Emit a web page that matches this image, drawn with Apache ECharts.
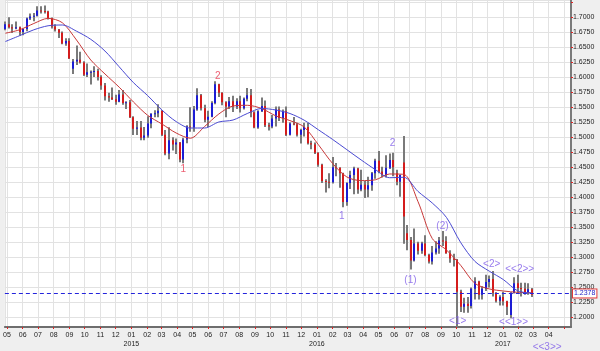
<!DOCTYPE html>
<html>
<head>
<meta charset="utf-8">
<title>GBP/USD weekly</title>
<script src="https://cdn.jsdelivr.net/npm/echarts@6/dist/echarts.min.js"></script>
<style>
  html, body { margin: 0; padding: 0; background: #efefef; }
  #main { width: 600px; height: 351px; }
</style>
</head>
<body>
<div id="main"></div>
<script>
// weekly candles, first one is the week of 2014-04-28
var firstWeek = '2014-04-28';

var opens = [
  1.6800,1.6880,1.6830,1.6810,1.6830,1.6750,1.6800,1.6975,1.7010,1.7020,1.7110,1.7100,
  1.7090,1.6980,1.6840,1.6790,1.6740,1.6560,1.6600,1.6140,1.6260,1.6290,1.6245,1.6040,
  1.6080,1.6090,1.6100,1.6000,1.5860,1.5680,1.5660,1.5630,1.5590,1.5710,1.5570,1.5580,
  1.5330,1.5140,1.5160,1.4990,1.5030,1.5230,1.5390,1.5400,1.5440,1.5040,1.4730,1.4950,
  1.4880,1.4910,1.4630,1.4960,1.5180,1.5160,1.5460,1.5700,1.5480,1.5290,1.5340,1.5570,
  1.5880,1.5740,1.5580,1.5510,1.5600,1.5510,1.5600,1.5480,1.5640,1.5700,1.5410,1.5160,
  1.5430,1.5520,1.5200,1.5180,1.5310,1.5460,1.5320,1.5430,1.5040,1.5230,1.5210,1.5040,
  1.5120,1.5170,1.4900,1.4880,
  1.4740,1.4540,1.4270,1.4260,1.4250,1.4500,1.4490,1.4400,1.3920,1.4240,1.4370,1.4480,
  1.4130,1.4210,1.4130,1.4200,1.4400,1.4610,1.4430,1.4370,1.4490,1.4620,1.4400,1.4260,
  1.4580,1.3400,1.3290,1.2950,1.3230,1.3110,1.3230,1.3040,1.2930,1.3080,1.3150,1.3280,
  1.3270,1.3070,1.2980,1.2960,1.2430,1.2180,1.2230,1.2190,1.2480,1.2600,1.2380,1.2480,
  1.2590,1.2640,1.2410,1.2280,
  1.2340,1.2270,1.2040,1.2410,1.2570,1.2490,1.2480,1.2410,1.2470
];
var highs = [
  1.6925,1.6996,1.6880,1.6925,1.6840,1.6810,1.6990,1.7060,1.7065,1.7180,1.7180,1.7190,
  1.7105,1.6990,1.6880,1.6800,1.6760,1.6645,1.6645,1.6300,1.6525,1.6420,1.6265,1.6225,
  1.6110,1.6180,1.6140,1.6030,1.5900,1.5740,1.5825,1.5705,1.5785,1.5785,1.5600,1.5620,
  1.5350,1.5270,1.5270,1.5170,1.5350,1.5400,1.5450,1.5550,1.5450,1.5120,1.5165,1.5000,
  1.4980,1.4920,1.4990,1.5200,1.5500,1.5520,1.5815,1.5720,1.5540,1.5440,1.5600,1.5930,
  1.5890,1.5750,1.5600,1.5670,1.5690,1.5650,1.5690,1.5660,1.5820,1.5800,1.5430,1.5450,
  1.5660,1.5610,1.5240,1.5370,1.5510,1.5510,1.5460,1.5510,1.5250,1.5335,1.5240,1.5140,
  1.5240,1.5240,1.4940,1.4910,
  1.4750,1.4560,1.4300,1.4400,1.4670,1.4570,1.4500,1.4410,1.4250,1.4440,1.4510,1.4490,
  1.4460,1.4270,1.4340,1.4420,1.4640,1.4770,1.4510,1.4700,1.4730,1.4740,1.4460,1.4380,
  1.5018,1.3540,1.3340,1.3480,1.3260,1.3260,1.3370,1.3060,1.3190,1.3270,1.3340,1.3440,
  1.3350,1.3120,1.3060,1.2975,1.2460,1.2330,1.2340,1.2500,1.2670,1.2610,1.2520,1.2710,
  1.2700,1.2775,1.2420,1.2370,
  1.2430,1.2280,1.2420,1.2670,1.2710,1.2580,1.2580,1.2570,1.2490
];
var lows = [
  1.6780,1.6810,1.6735,1.6795,1.6690,1.6695,1.6765,1.6950,1.6930,1.7010,1.7060,1.7060,
  1.6960,1.6810,1.6760,1.6650,1.6545,1.6520,1.6300,1.6050,1.6200,1.6225,1.6020,1.6000,
  1.5875,1.6000,1.5945,1.5790,1.5610,1.5590,1.5620,1.5540,1.5580,1.5540,1.5470,1.5320,
  1.5035,1.5035,1.4950,1.4950,1.4990,1.5150,1.5330,1.5330,1.5020,1.4700,1.4635,1.4780,
  1.4720,1.4585,1.4565,1.4900,1.5090,1.5090,1.5440,1.5445,1.5250,1.5170,1.5330,1.5550,
  1.5670,1.5530,1.5330,1.5470,1.5420,1.5470,1.5410,1.5460,1.5600,1.5330,1.5150,1.5140,
  1.5420,1.5170,1.5110,1.5150,1.5180,1.5270,1.5240,1.5020,1.5030,1.5200,1.5010,1.4895,
  1.5010,1.4880,1.4800,1.4720,
  1.4510,1.4240,1.4080,1.4150,1.4230,1.4350,1.4160,1.3835,1.3860,1.4140,1.4050,1.4060,
  1.4100,1.3990,1.4000,1.4110,1.4310,1.4400,1.4330,1.4330,1.4470,1.4350,1.4200,1.4010,
  1.3228,1.3120,1.2800,1.2930,1.3050,1.3060,1.3020,1.2900,1.2880,1.3050,1.3060,1.3190,
  1.3060,1.2910,1.2850,1.1841,1.2090,1.2080,1.2080,1.2150,1.2300,1.2300,1.2300,1.2440,
  1.2500,1.2350,1.2250,1.2200,
  1.2200,1.2040,1.1986,1.2400,1.2400,1.2350,1.2380,1.2380,1.2340
];
var closes = [
  1.6880,1.6830,1.6810,1.6830,1.6750,1.6800,1.6975,1.7010,1.7020,1.7110,1.7100,1.7090,
  1.6980,1.6840,1.6790,1.6740,1.6560,1.6600,1.6310,1.6260,1.6290,1.6245,1.6040,1.6080,
  1.6090,1.6100,1.6000,1.5860,1.5680,1.5660,1.5630,1.5590,1.5710,1.5570,1.5580,1.5330,
  1.5140,1.5160,1.4990,1.5030,1.5230,1.5390,1.5400,1.5440,1.5040,1.4730,1.4950,1.4880,
  1.4910,1.4630,1.4960,1.5180,1.5160,1.5460,1.5700,1.5480,1.5290,1.5340,1.5570,1.5880,
  1.5740,1.5580,1.5510,1.5600,1.5510,1.5600,1.5480,1.5640,1.5700,1.5410,1.5160,1.5430,
  1.5520,1.5200,1.5180,1.5310,1.5460,1.5320,1.5430,1.5040,1.5230,1.5210,1.5040,1.5120,
  1.5170,1.4900,1.4880,1.4740,
  1.4540,1.4270,1.4260,1.4250,1.4500,1.4490,1.4400,1.3920,1.4240,1.4370,1.4480,1.4130,
  1.4210,1.4130,1.4200,1.4400,1.4610,1.4430,1.4370,1.4490,1.4620,1.4500,1.4260,1.4370,
  1.3680,1.3290,1.2950,1.3230,1.3110,1.3230,1.3040,1.2930,1.3080,1.3150,1.3280,1.3270,
  1.3070,1.2980,1.2960,1.2430,1.2180,1.2230,1.2190,1.2480,1.2600,1.2380,1.2480,1.2590,
  1.2640,1.2410,1.2280,1.2340,
  1.2270,1.2180,1.2410,1.2570,1.2490,1.2480,1.2410,1.2470,1.2378
];

// moving averages, one value every 4th week
var maStep = 4;
var maRed = [
  1.6730,1.6787,1.6892,1.6977,1.6905,1.6617,1.6285,1.6052,1.5832,1.5586,1.5364,1.5220,
  1.5070,1.4983,1.5178,1.5386,1.5519,1.5531,1.5478,1.5356,1.5276,1.5170,1.4874,1.4562,
  1.4338,1.4278,1.4291,1.4388,1.4381,1.3927,1.3314,1.3123,1.2867,1.2567,1.2476,1.2441,
  1.2419,1.2413
];
var maBlue = [
  1.6592,1.6689,1.6787,1.6854,1.6867,1.6764,1.6629,1.6434,1.6171,1.5908,1.5692,1.5453,
  1.5260,1.5153,1.5153,1.5253,1.5286,1.5394,1.5478,1.5453,1.5394,1.5283,1.5123,1.4962,
  1.4792,1.4622,1.4461,1.4326,1.4333,1.4097,1.3905,1.3664,1.3246,1.2933,1.2772,1.2630,
  1.2444,1.2406
];

var lastPrice = 1.2378;

// wave count labels
var waveText  = ['1', '2', '1', '2', '(1)', '(2)', '<1>', '<2>', '<<1>>', '<<2>>', '<<3>>'];
var waveDate  = ['2015-04-13', '2015-06-20', '2016-02-19', '2016-05-29', '2016-07-03', '2016-09-04',
                 '2016-10-04', '2016-12-10', '2017-01-22', '2017-02-03', '2017-03-29'];
var wavePrice = [1.4471, 1.6007, 1.3689, 1.4903, 1.2624, 1.3522, 1.1930, 1.2890, 1.1917, 1.2807, 1.1509];
var waveTone  = ['r', 'r', 'p', 'p', 'p', 'p', 'p', 'p', 'p', 'p', 'p'];

// last month that gets a label, highest price label shown
var lastLabelMonth = '2017-04-01';
var topPriceLabel = 1.7;

var DAY = 86400000;
function utc(s) { return Date.parse(s + 'T00:00:00Z'); }
var t0 = utc(firstWeek);

var candles = opens.map(function (o, i) {
  return [t0 + i * 7 * DAY, o, closes[i], lows[i], highs[i]];
});
var redLine = maRed.map(function (v, k) { return [t0 + k * maStep * 7 * DAY, v]; });
var blueLine = maBlue.map(function (v, k) { return [t0 + k * maStep * 7 * DAY, v]; });
var waves = waveText.map(function (s, i) {
  return {
    value: [utc(waveDate[i]), wavePrice[i]],
    label: { formatter: s, color: waveTone[i] === 'r' ? '#e8364e' : '#7d5ae8' }
  };
});

function renderCandle(params, api) {
  var t = api.value(0), o = api.value(1), c = api.value(2), l = api.value(3), h = api.value(4);
  var top = api.coord([t, h]), bot = api.coord([t, l]);
  var po = api.coord([t, o]), pc = api.coord([t, c]);
  var x = Math.round(top[0]) - 1;
  var by = Math.min(po[1], pc[1]);
  var bh = Math.max(Math.abs(po[1] - pc[1]), 1);
  return {
    type: 'group',
    children: [
      { type: 'rect', shape: { x: x, y: top[1], width: 2, height: bot[1] - top[1] }, style: { fill: '#7a7a7a' } },
      { type: 'rect', shape: { x: x, y: by, width: 2, height: bh }, style: { fill: c >= o ? '#1c1cd4' : '#d41c1c' } }
    ]
  };
}

function fmtMonth(v) {
  if (v > utc(lastLabelMonth) + DAY) return '';
  var d = new Date(v);
  var m = d.getUTCMonth() + 1;
  var mm = (m < 10 ? '0' : '') + m;
  return m === 1 ? mm + '\n' + d.getUTCFullYear() : mm;
}

var chart = echarts.init(document.getElementById('main'));
chart.setOption({
  animation: false,
  useUTC: true,
  backgroundColor: '#efefef',
  textStyle: { fontFamily: 'Liberation Sans, Arial, sans-serif' },
  grid: { left: 0, top: 0, right: 29, bottom: 24, show: true, backgroundColor: '#ffffff', borderWidth: 0 },
  xAxis: {
    type: 'time',
    min: utc('2014-04-27'),
    max: utc('2017-05-15'),
    minInterval: 28 * DAY,
    maxInterval: 31 * DAY,
    axisLine: { show: true, lineStyle: { color: '#6e6e6e', width: 2 } },
    axisTick: { show: true, length: 2, lineStyle: { color: '#dd2222', width: 1 } },
    axisLabel: {
      fontSize: 7, color: '#222', margin: 4, lineHeight: 9,
      showMinLabel: false, showMaxLabel: false, formatter: fmtMonth
    },
    splitLine: { show: true, lineStyle: { color: '#e2e2e2', width: 1 } }
  },
  yAxis: {
    type: 'value',
    position: 'right',
    min: 1.18419,
    max: 1.72829,
    minInterval: 0.025,
    maxInterval: 0.025,
    axisLine: { show: true, lineStyle: { color: '#7a7a7a', width: 2 } },
    axisTick: { show: true, length: 2, lineStyle: { color: '#dd2222', width: 1 } },
    axisLabel: {
      fontSize: 7, color: '#222', margin: 2,
      showMinLabel: false, showMaxLabel: false,
      formatter: function (v) { return v > topPriceLabel + 0.001 ? '' : v.toFixed(4); }
    },
    splitLine: { show: true, lineStyle: { color: '#e2e2e2', width: 1 } }
  },
  series: [
    {
      type: 'custom',
      name: 'GBPUSD',
      renderItem: renderCandle,
      data: candles,
      encode: { x: 0, y: [1, 2, 3, 4] },
      clip: true,
      z: 2
    },
    {
      type: 'line',
      name: 'MA fast',
      data: redLine,
      showSymbol: false,
      smooth: 0.3,
      lineStyle: { color: '#c83838', width: 1 },
      z: 3
    },
    {
      type: 'line',
      name: 'MA slow',
      data: blueLine,
      showSymbol: false,
      smooth: 0.3,
      lineStyle: { color: '#4a4ad2', width: 1 },
      z: 3,
      markLine: {
        silent: true,
        symbol: 'none',
        data: [{ yAxis: lastPrice }],
        lineStyle: { color: '#2424dc', type: [4, 3], width: 1 },
        label: {
          show: true, position: 'end', distance: 2,
          formatter: lastPrice.toFixed(4),
          fontSize: 7, color: '#2424c8',
          backgroundColor: '#ffffff', borderColor: '#e23a3a', borderWidth: 1,
          padding: [1, 1, 0, 1]
        }
      }
    },
    {
      type: 'scatter',
      name: 'waves',
      data: waves,
      symbolSize: 0,
      clip: false,
      silent: true,
      label: { show: true, position: 'inside', fontSize: 10 },
      z: 4
    }
  ]
});
</script>
</body>
</html>
